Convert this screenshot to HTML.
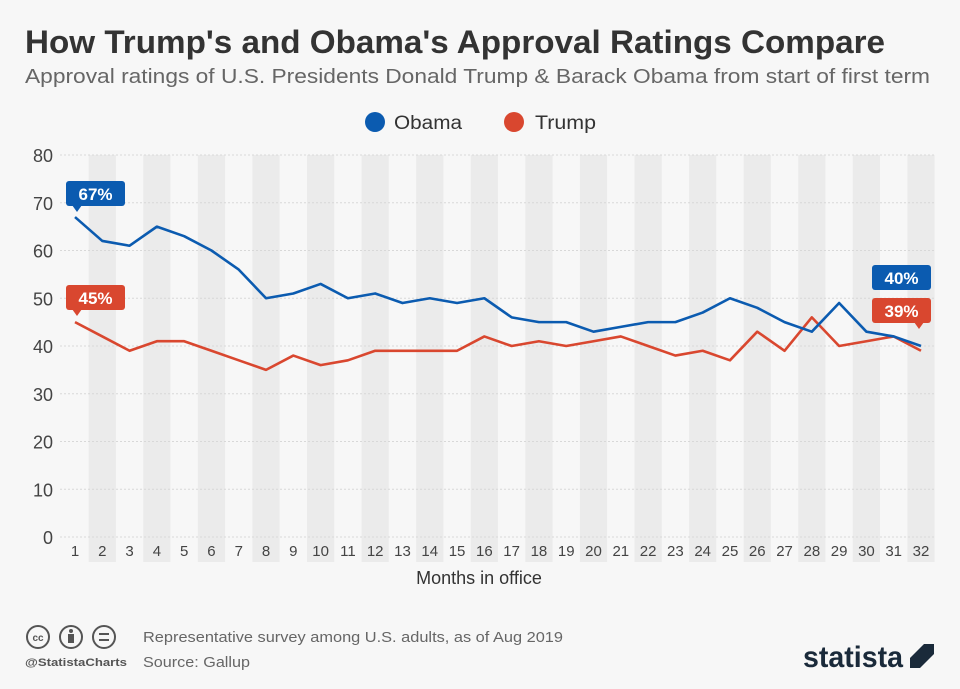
<!DOCTYPE html>
<html><head><meta charset="utf-8"><style>
body{margin:0;width:960px;height:684px;background:#f7f7f7;font-family:"Liberation Sans","DejaVu Sans",sans-serif;overflow:hidden}
</style></head><body>
<svg id="s" width="960" height="684" xmlns="http://www.w3.org/2000/svg" font-family="Liberation Sans, DejaVu Sans, sans-serif">
<rect width="960" height="684" fill="#f7f7f7"/>
<text x="25" y="53" font-size="32" font-weight="bold" fill="#333" textLength="860" lengthAdjust="spacingAndGlyphs">How Trump's and Obama's Approval Ratings Compare</text>
<text x="25" y="83" font-size="20" fill="#666" textLength="905" lengthAdjust="spacingAndGlyphs">Approval ratings of U.S. Presidents Donald Trump &amp; Barack Obama from start of first term</text>
<circle cx="375" cy="122" r="10" fill="#0b5bb0"/><text x="394" y="129" font-size="19" fill="#333" textLength="68" lengthAdjust="spacingAndGlyphs">Obama</text>
<circle cx="514" cy="122" r="10" fill="#d9472f"/><text x="535" y="129" font-size="19" fill="#333" textLength="61" lengthAdjust="spacingAndGlyphs">Trump</text>
<g id="stripes"></g><g id="grid"></g><g id="lines"></g>
<text x="479" y="584" font-size="18" fill="#333" text-anchor="middle">Months in office</text>
<g id="lab">
<rect x="66" y="181" width="59" height="25" rx="3" fill="#0b5bb0"/><path d="M72 205 L77 212 L82 205Z" fill="#0b5bb0"/>
<text x="95.5" y="200" font-size="17" font-weight="bold" fill="#fff" text-anchor="middle">67%</text>
<rect x="66" y="285" width="59" height="25" rx="3" fill="#d9472f"/><path d="M72 309 L77 316 L82 309Z" fill="#d9472f"/>
<text x="95.5" y="304" font-size="17" font-weight="bold" fill="#fff" text-anchor="middle">45%</text>
<rect x="872" y="265" width="59" height="25" rx="3" fill="#0b5bb0"/>
<text x="901.5" y="284" font-size="17" font-weight="bold" fill="#fff" text-anchor="middle">40%</text>
<rect x="872" y="298" width="59" height="25" rx="3" fill="#d9472f"/><path d="M914 322 L919 329 L924 322Z" fill="#d9472f"/>
<text x="901.5" y="317" font-size="17" font-weight="bold" fill="#fff" text-anchor="middle">39%</text>
</g>
<g fill="none" stroke="#555" stroke-width="2">
<circle cx="38" cy="637" r="11"/><circle cx="71" cy="637" r="11"/><circle cx="104" cy="637" r="11"/></g>
<text x="38" y="641" font-size="10" font-weight="bold" fill="#555" text-anchor="middle">cc</text>
<circle cx="71" cy="631" r="2" fill="#555"/><rect x="68" y="634" width="6" height="9" fill="#555"/>
<rect x="99" y="633" width="10" height="2" fill="#555"/><rect x="99" y="639" width="10" height="2" fill="#555"/>
<text x="25" y="666" font-size="11" font-weight="bold" fill="#555" textLength="102" lengthAdjust="spacingAndGlyphs">@StatistaCharts</text>
<text x="143" y="642" font-size="15" fill="#666" textLength="420" lengthAdjust="spacingAndGlyphs">Representative survey among U.S. adults, as of Aug 2019</text>
<text x="143" y="667" font-size="15" fill="#666" textLength="107" lengthAdjust="spacingAndGlyphs">Source: Gallup</text>
<text x="803" y="667" font-size="30" font-weight="bold" fill="#1a2a3a" textLength="100" lengthAdjust="spacingAndGlyphs">statista</text>
<path d="M910 644 H934 V654 L920 668 H910 V658 L924 644Z" fill="#1a2a3a"/>
</svg>
<script>
var NS="http://www.w3.org/2000/svg";
function el(t,a,p,tx){var e=document.createElementNS(NS,t);for(var k in a)e.setAttribute(k,a[k]);if(tx!==undefined)e.textContent=tx;document.getElementById(p).appendChild(e);return e;}
var X=function(i){return 75+(i-1)*27.29},Y=function(v){return 537-v*4.775};
for(var i=2;i<=32;i+=2)el("rect",{x:X(i)-13.6,y:155,width:27.2,height:407,fill:"#ebebeb"},"stripes");
for(var v=0;v<=80;v+=10){el("line",{x1:60,x2:935,y1:Y(v),y2:Y(v),stroke:"#d8d8d8","stroke-dasharray":"2,2"},"grid");el("text",{x:53,y:Y(v)+7,"font-size":18,fill:"#444","text-anchor":"end"},"grid",v);}
for(var i=1;i<=32;i++)el("text",{x:X(i),y:556,"font-size":15,fill:"#444","text-anchor":"middle"},"grid",i);
var ob=[67,62,61,65,63,60,56,50,51,53,50,51,49,50,49,50,46,45,45,43,44,45,45,47,50,48,45,43,49,43,42,40];
var tr=[45,42,39,41,41,39,37,35,38,36,37,39,39,39,39,42,40,41,40,41,42,40,38,39,37,43,39,46,40,41,42,39];
function pl(d,c){el("polyline",{points:d.map(function(v,i){return X(i+1)+","+Y(v)}).join(" "),fill:"none",stroke:c,"stroke-width":2.6,"stroke-linejoin":"round"},"lines");}
pl(tr,"#d9472f");pl(ob,"#0b5bb0");
</script>
</body></html>
